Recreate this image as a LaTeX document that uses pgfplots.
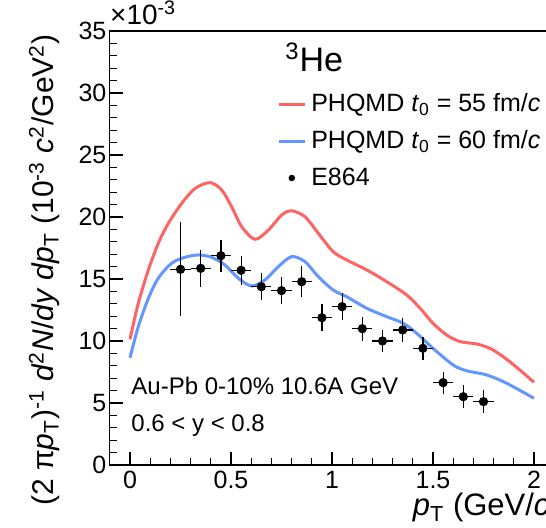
\documentclass[border=0pt]{standalone}
\usepackage{fontspec}
\setmainfont{Liberation Sans}
\usepackage{pgfplots}
\usepackage{pgfplotstable}
\pgfplotsset{compat=1.18}
\definecolor{myred}{RGB}{255,100,100}
\definecolor{myblue}{RGB}{100,150,255}
\pgfplotstableread{
x y ex ey
0.25 15.78 0.05 3.78
0.35 15.86 0.05 1.48
0.45 16.88 0.05 1.28
0.55 15.70 0.05 1.18
0.65 14.38 0.05 1.08
0.75 14.06 0.05 1.08
0.85 14.78 0.05 1.27
0.95 11.88 0.05 1.08
1.05 12.77 0.05 1.08
1.15 10.99 0.05 0.97
1.25 10.00 0.05 0.92
1.35 10.89 0.05 1.00
1.45 9.41 0.05 0.94
1.55 6.64 0.05 0.88
1.65 5.51 0.05 0.94
1.75 5.11 0.05 0.91
}\datatable
\pgfplotstableread{
x y
0.0 10.14
0.041 13.04
0.091 15.73
0.14 17.88
0.19 19.49
0.256 21.1
0.322 22.3
0.396 22.77
0.454 22.18
0.503 20.83
0.553 19.22
0.619 18.2
0.685 18.95
0.751 20.16
0.80 20.5
0.866 20.02
0.932 18.69
1.006 17.2
1.073 16.53
1.172 15.73
1.271 14.78
1.37 13.71
1.436 12.64
1.50 11.43
1.568 10.48
1.634 9.95
1.716 9.76
1.782 9.41
1.848 8.73
1.93 7.66
2.0 6.67
}\redtable
\pgfplotstableread{
x y
0.0 8.65
0.041 11.15
0.091 13.44
0.14 15.06
0.206 16.27
0.272 16.75
0.338 16.94
0.404 16.75
0.47 16.13
0.536 15.06
0.602 14.44
0.668 14.92
0.734 15.99
0.80 16.8
0.866 16.4
0.932 15.19
1.006 14.11
1.073 13.57
1.172 12.64
1.271 11.96
1.353 11.43
1.419 10.62
1.50 9.41
1.60 8.06
1.667 7.6
1.766 7.26
1.865 6.59
2.0 5.38
}\bluetable
\begin{document}
\begin{tikzpicture}
\begin{axis}[name=ax, scale only axis, width=222.2pt, height=217pt,
  xmin=-0.1, xmax=2.1, ymin=0, ymax=35,
  clip=false,
  axis line style={line width=0.65pt},
  xtick={0,0.5,1,1.5,2}, ytick={0,5,10,15,20,25,30,35},
  minor x tick num=4, minor y tick num=4,
  tick align=inside, xtick pos=left, ytick pos=left,
  major tick length=6.5pt, minor tick length=3.5pt,
  tick style={line width=0.6pt, black},
  /pgf/number format/assume math mode=true,
  ticklabel style={font=\fontsize{12.5}{14}\selectfont},
  xticklabel style={anchor=north, inner sep=0pt, yshift=-3pt},
  yticklabel style={anchor=east, inner sep=0pt, xshift=-1.5pt},
  scaled y ticks=false,
  legend style={at={(axis description cs:0.376,0.866)}, anchor=north west,
    draw=none, fill=none, font=\fontsize{12.5}{15}\selectfont, row sep=4pt, inner sep=0pt,
    /tikz/every odd column/.append style={column sep=0.5pt}},
  legend cell align=left,
]
\addplot[myred, line width=1.5pt, smooth,
  legend image code/.code={\draw[myred, line width=1.5pt] (0pt,0pt) -- (13pt,0pt);}] table[x=x,y=y] {\redtable};
\addlegendentry{PHQMD \textit{t}\textsubscript{0} = 55 fm/\textit{c}}
\addplot[myblue, line width=1.5pt, smooth,
  legend image code/.code={\draw[myblue, line width=1.5pt] (0pt,0pt) -- (13pt,0pt);}] table[x=x,y=y] {\bluetable};
\addlegendentry{PHQMD \textit{t}\textsubscript{0} = 60 fm/\textit{c}}
\addplot[black, only marks, mark=*, mark size=2.1pt,
  legend image code/.code={\fill[black] (6.5pt,0pt) circle (1.4pt);},
  error bars/.cd, x dir=both, x explicit, y dir=both, y explicit,
  error bar style={line width=0.6pt, black}, error mark=none]
  table[x=x, y=y, x error=ex, y error=ey] {\datatable};
\addlegendentry{E864}
\node[anchor=base west, inner sep=0pt, font=\fontsize{17}{20}\selectfont] at (axis cs:0.767,31.72) {\textsuperscript{3}He};
\node[anchor=base west, inner sep=0pt, font=\fontsize{12}{14}\selectfont] at (axis cs:0.005,5.65) {Au-Pb 0-10\% 10.6A GeV};
\node[anchor=base west, inner sep=0pt, font=\fontsize{12}{14}\selectfont] at (axis cs:0.005,2.69) {0.6 < y < 0.8};
\node[anchor=base west, inner sep=0pt, font=\fontsize{14}{16}\selectfont] at ([yshift=3pt]rel axis cs:0,1) {\texttimes10\textsuperscript{-3}};
\node[anchor=base east, inner sep=0pt, font=\fontsize{15.5}{18}\selectfont] at ([xshift=3pt,yshift=-25.5pt]rel axis cs:1,0) {\textit{p}\textsubscript{T} (GeV/\textit{c})};
\node[rotate=90, anchor=base east, inner sep=0pt, font=\fontsize{15}{18}\selectfont] at ([xshift=-27.9pt,yshift=-1.5pt]rel axis cs:0,1) {(2 π\textit{p}\textsubscript{T})\textsuperscript{-1} \textit{d}\textsuperscript{2}\textit{N}/\textit{dy} \textit{dp}\textsubscript{T} (10\textsuperscript{-3} \textit{c}\textsuperscript{2}/GeV\textsuperscript{2})};
\end{axis}
\pgfresetboundingbox
\useasboundingbox ([xshift=-54.9pt,yshift=-31.5pt]ax.south west) rectangle ([xshift=218.1pt,yshift=232.5pt]ax.south west);
\end{tikzpicture}
\end{document}
